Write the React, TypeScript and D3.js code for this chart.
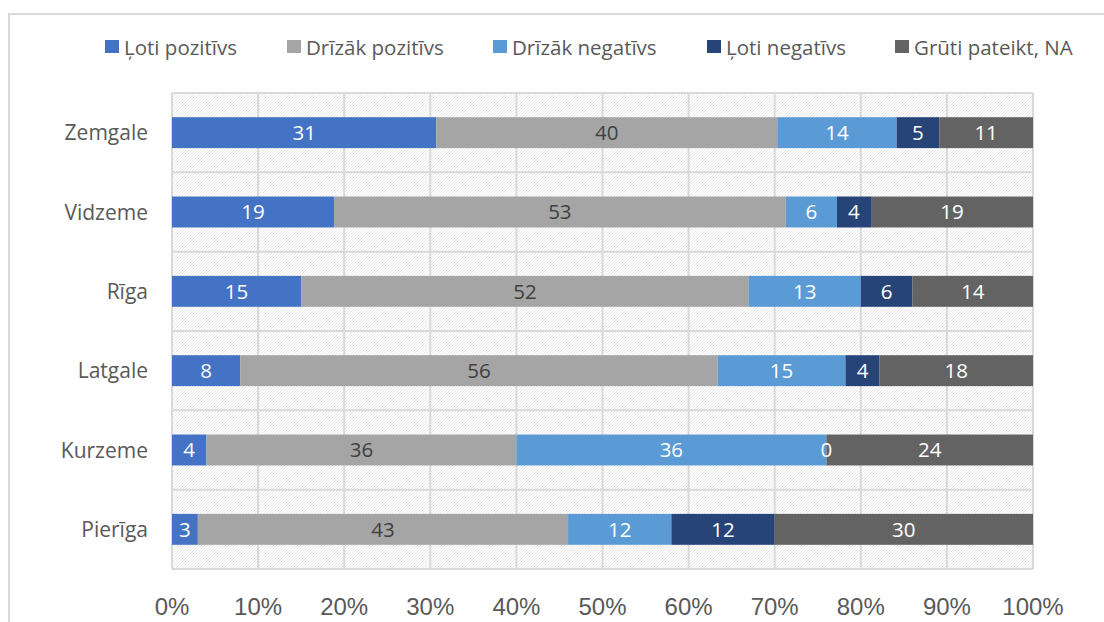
import React from "react";
import * as d3 from "d3";

// Regions (top to bottom) and the answer categories stacked in each bar
const regions = ["Zemgale", "Vidzeme", "Rīga", "Latgale", "Kurzeme", "Pierīga"];
const seriesNames = ["Ļoti pozitīvs", "Drīzāk pozitīvs", "Drīzāk negatīvs", "Ļoti negatīvs", "Grūti pateikt, NA"];
const seriesColors = ["#4472C4", "#A5A5A5", "#5B9BD5", "#264478", "#636363"];

// Shares in percent per region, one array per answer category
const lotiPozitivs = [31, 19, 15, 8, 4, 3];
const drizakPozitivs = [40, 53, 52, 56, 36, 43];
const drizakNegativs = [14, 6, 13, 15, 36, 12];
const lotiNegativs = [5, 4, 6, 4, 0, 12];
const grutiPateikt = [11, 19, 14, 18, 24, 30];

const xTicks = [0, 0.1, 0.2, 0.3, 0.4, 0.5, 0.6, 0.7, 0.8, 0.9, 1];

const W = 1104;
const H = 622;
const plot = { left: 172, right: 1033, top: 93, bottom: 569 };
const legendX = [105, 287, 493, 707, 895];
const textColor = "#595959";
const gridColor = "#d9d9d9";
const bodyFont = "'Open Sans', 'Noto Sans', sans-serif";
const axisFont = "'Liberation Sans', Arial, sans-serif";

export default function App() {
  const seriesValues = [lotiPozitivs, drizakPozitivs, drizakNegativs, lotiNegativs, grutiPateikt];
  const rows = regions.map((r, i) => {
    const row: Record<string, any> = { region: r };
    seriesNames.forEach((s, k) => (row[s] = seriesValues[k][i]));
    return row;
  });

  const stack = d3.stack<any>().keys(seriesNames).offset(d3.stackOffsetExpand);
  const layers = stack(rows);

  const x = d3.scaleLinear().domain([0, 1]).range([plot.left, plot.right]);
  const y = d3
    .scaleBand<string>()
    .domain(regions)
    .range([plot.top, plot.bottom])
    .paddingInner(0.61)
    .paddingOuter(0.305);
  const step = y.step();

  return (
    <svg
      width={W}
      height={H}
      style={{ position: "absolute", left: 0, top: 0, display: "block", background: "#fff" }}
    >
      <defs>
        <pattern id="hatch" width={3} height={3} patternUnits="userSpaceOnUse">
          <rect width={3} height={3} fill="#ffffff" />
          <path d="M-1,1 l2,-2 M0,3 l3,-3 M2,4 l2,-2" stroke="#e2e2e2" strokeWidth={0.8} />
        </pattern>
      </defs>

      {/* chart frame */}
      <rect x={9} y={14} width={1200} height={700} fill="none" stroke={gridColor} strokeWidth={2} />

      {/* legend */}
      {seriesNames.map((s, k) => (
        <g key={s}>
          <rect x={legendX[k]} y={40} width={14} height={13} fill={seriesColors[k]} />
          <text
            x={legendX[k] + 19}
            y={54.5}
            fontSize={20.5}
            fontFamily={bodyFont}
            fill={textColor}
          >
            {s}
          </text>
        </g>
      ))}

      {/* plot background */}
      <rect
        x={plot.left}
        y={plot.top}
        width={plot.right - plot.left}
        height={plot.bottom - plot.top}
        fill="url(#hatch)"
      />

      {/* gridlines */}
      {xTicks.map((t) => (
        <line
          key={"v" + t}
          x1={x(t)}
          x2={x(t)}
          y1={plot.top}
          y2={plot.bottom}
          stroke={gridColor}
          strokeWidth={2}
        />
      ))}
      {d3.range(regions.length + 1).map((i) => (
        <line
          key={"h" + i}
          x1={plot.left}
          x2={plot.right}
          y1={plot.top + i * step}
          y2={plot.top + i * step}
          stroke={gridColor}
          strokeWidth={2}
        />
      ))}

      {/* stacked bars */}
      {layers.map((layer, k) => (
        <g key={layer.key}>
          {layer.map((d, i) => (
            <rect
              key={i}
              x={x(d[0])}
              y={y(regions[i])}
              width={Math.max(0, x(d[1]) - x(d[0]))}
              height={y.bandwidth()}
              fill={seriesColors[k]}
            />
          ))}
        </g>
      ))}

      {/* value labels */}
      {layers.map((layer, k) => (
        <g key={"l" + layer.key}>
          {layer.map((d, i) => (
            <text
              key={i}
              x={(x(d[0]) + x(d[1])) / 2}
              y={(y(regions[i]) as number) + y.bandwidth() / 2}
              dy="0.36em"
              textAnchor="middle"
              fontSize={20.5}
              fontFamily={bodyFont}
              fill={k === 1 ? "#404040" : "#ffffff"}
            >
              {seriesValues[k][i]}
            </text>
          ))}
        </g>
      ))}

      {/* category labels */}
      {regions.map((r) => (
        <text
          key={r}
          x={148}
          y={(y(r) as number) + y.bandwidth() / 2}
          dy="0.36em"
          textAnchor="end"
          fontSize={21}
          fontFamily={bodyFont}
          fill={textColor}
        >
          {r}
        </text>
      ))}

      {/* x axis tick labels */}
      {xTicks.map((t) => (
        <text
          key={"t" + t}
          x={x(t)}
          y={615}
          textAnchor="middle"
          fontSize={24}
          fontFamily={axisFont}
          fill={textColor}
        >
          {d3.format(".0%")(t)}
        </text>
      ))}
    </svg>
  );
}
